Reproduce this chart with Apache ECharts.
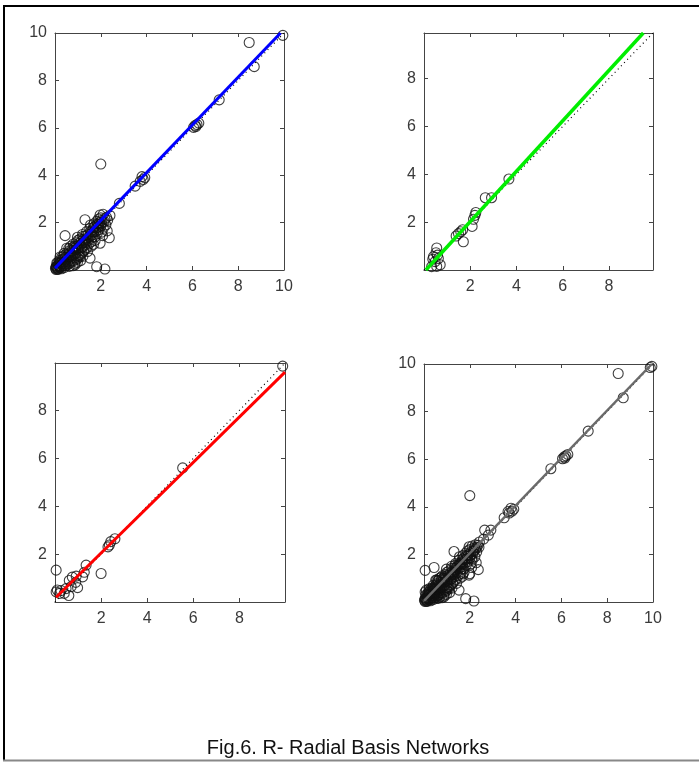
<!DOCTYPE html>
<html>
<head>
<meta charset="utf-8">
<script src="https://cdn.jsdelivr.net/npm/echarts@6/dist/echarts.min.js"></script>
<style>
html,body{margin:0;padding:0;background:#fff;}
#chart{width:699px;height:762px;}
</style>
</head>
<body>
<div id="chart"></div>
<script>
// ---- data (target, output) ----
const trainPoints = [
  [9.95,9.90],[8.48,9.60],[8.70,8.58],[7.17,7.18],[6.05,6.02],[6.12,6.10],[6.20,6.14],[6.28,6.20],[6.15,6.05],
  [3.92,3.90],[3.80,3.94],[3.72,3.74],[3.50,3.54],[3.85,3.82],[2.81,2.81],[2.00,4.47],[1.97,2.32],[1.31,2.12],
  [2.11,1.76],[2.37,1.36],[1.97,1.13],[0.44,1.45],[1.53,0.50],[1.82,0.14],[2.18,0.04],[0.87,0.22],[0.02,0.07],[0.05,0.02],
  [2.25,2.22],[2.05,2.10],[1.95,2.00],[1.90,1.92],[1.85,1.95],[2.00,1.85],[1.80,1.78],[1.75,1.85],[1.70,1.62],[1.65,1.70],
  [1.60,1.55],[1.55,1.62],[1.50,1.40],[1.45,1.50],[1.40,1.35],[1.35,1.45],[1.30,1.25],[1.25,1.30],[1.20,1.15],[1.15,1.22],
  [1.10,1.05],[1.05,1.12],[1.00,0.95],[0.95,1.02],[0.90,0.85],[0.85,0.92],[0.80,0.75],[0.75,0.82],[0.70,0.65],[0.65,0.72],
  [0.60,0.55],[0.55,0.62],[0.50,0.45],[0.45,0.52],[0.40,0.35],[0.35,0.42],[0.30,0.25],[0.25,0.32],[0.20,0.15],[0.15,0.22],
  [0.10,0.08],[0.08,0.15],[1.60,1.20],[1.40,0.95],[1.25,0.80],[1.10,0.65],[0.95,0.45],[0.80,0.38],[0.65,0.30],[0.50,0.20],
  [1.75,1.40],[1.85,1.55],[2.05,1.60],[1.55,1.90],[1.20,1.50],[1.00,1.25],[0.80,1.10],[0.60,0.90],[0.40,0.70],[0.30,0.55],
  [0.20,0.40],[0.70,0.50],[0.55,0.35],[0.35,0.18],[0.25,0.10],[1.15,0.95],[1.35,1.15],[0.90,0.70],[1.05,0.85],[0.45,0.25],
  [2.15,2.05],[2.10,2.35],[1.90,2.15],[1.70,1.95],[1.45,1.25],[1.30,1.05],[0.75,0.60],[0.85,1.00],[0.15,0.05],[0.12,0.30],
  [0.51,0.92],[1.09,0.56],[0.87,0.28],
  [1.62,1.38],[1.48,1.10],[1.32,0.88],[1.18,0.72],[1.02,0.60],[0.88,0.52],[0.72,0.38],[0.58,0.26],[0.42,0.18],[0.28,0.14],
  [1.78,1.62],[1.92,1.70],[2.02,1.95],[2.22,1.90],[2.08,1.45],[1.68,1.08],[1.42,0.78],[1.22,0.58],[1.12,0.40],[0.98,0.32],
  [0.18,0.28],[0.32,0.46],[0.48,0.66],[0.62,0.80],[0.78,0.96],[0.92,1.15],[1.08,1.30],[1.22,1.42],[1.38,1.62],[1.52,1.75],
  [1.68,1.80],[1.82,2.05],[2.00,2.20],[0.38,0.60],[0.68,1.00],[0.98,1.38],[0.22,0.55],[0.08,0.30],[0.05,0.15],[0.12,0.02],
  [0.28,0.05],[0.40,0.10],[0.62,0.15],[0.78,0.18],[1.00,0.50],[1.18,0.95],[1.58,1.00],[1.75,1.25],[2.30,2.10],[2.40,2.30],
  [1.88,1.82],[1.58,1.45],[1.28,1.18],[0.98,0.88],[0.68,0.58],[0.38,0.30],[0.18,0.12],[0.05,0.10],[2.18,2.15],[2.28,1.65]
];
const valPoints = [
  [0.33,0.14],[0.55,0.15],[0.70,0.22],[0.48,0.35],[0.62,0.48],[0.41,0.56],[0.58,0.62],[0.52,0.72],[0.55,0.92],[0.38,0.45],
  [1.39,1.42],[1.49,1.52],[1.59,1.60],[1.67,1.68],[1.70,1.18],[2.08,1.82],[2.14,2.12],[2.20,2.28],[2.24,2.40],
  [2.65,3.02],[2.92,3.02],[3.67,3.80]
];
const testPoints = [
  [9.88,9.85],[5.54,5.60],[2.60,2.64],[2.42,2.52],[2.36,2.38],[2.30,2.30],[2.00,1.19],[1.35,1.54],[1.27,1.24],[1.20,1.05],
  [0.05,1.33],[0.75,1.04],[0.92,1.08],[0.62,0.90],[0.90,0.82],[0.98,0.60],[0.70,0.64],[0.48,0.56],[0.26,0.48],[0.10,0.50],
  [0.05,0.42],[0.40,0.36],[0.60,0.27],[0.20,0.36]
];
const allPoints = trainPoints.concat(valPoints, testPoints);

const fitTrain = [[0,0.08],[9.85,10]];
const fitVal   = [[0.08,0],[9.48,9.9]];
const fitTest  = [[0.05,0.2],[9.98,9.6]];
const fitAll   = [[0,0.05],[9.95,10]];

const axisMax = [10, 9.9, 9.98, 10];
const tickValues = [2,4,6,8,10];
const captionText = 'Fig.6. R- Radial Basis Networks';

// ---- layout ----
const grids = [
  {left:55,  top:33,  width:229, height:237},
  {left:424, top:33,  width:229, height:237},
  {left:55,  top:363, width:230, height:239},
  {left:424, top:364, width:229, height:238}
];
const pointSets = [trainPoints, valPoints, testPoints, allPoints];
const fits = [fitTrain, fitVal, fitTest, fitAll];
const fitColors = ['#0000ff', '#00ee00', '#ff0000', '#6a6a6a'];
const fitWidths = [3, 3.5, 3, 2.5];

const axColor = '#444';
const fmt = v => (tickValues.indexOf(Math.round(v*1000)/1000) >= 0 ? String(v) : '');
const labelStyle = {show:true, formatter:fmt, color:'#3a3a3a', fontSize:16, fontFamily:'Liberation Sans, Arial, sans-serif'};

const xAxes = [], yAxes = [], series = [];
grids.forEach((g, i) => {
  const mx = axisMax[i];
  const common = {
    min: 0, max: mx, interval: 2, splitLine:{show:false},
    axisLine:{show:true, onZero:false, lineStyle:{color:axColor, width:1}},
    axisTick:{show:true, inside:true, length:4, lineStyle:{color:axColor}}
  };
  xAxes.push(Object.assign({}, common, {gridIndex:i, type:'value', position:'bottom',
    axisLabel:Object.assign({margin:9}, labelStyle)}));
  xAxes.push(Object.assign({}, common, {gridIndex:i, type:'value', position:'top', axisLabel:{show:false}}));
  yAxes.push(Object.assign({}, common, {gridIndex:i, type:'value', position:'left',
    axisLabel:Object.assign({margin:8}, labelStyle)}));
  yAxes.push(Object.assign({}, common, {gridIndex:i, type:'value', position:'right', axisLabel:{show:false}}));

  series.push({
    type:'line', xAxisIndex:2*i, yAxisIndex:2*i, data:[[0,0],[mx,mx]],
    symbol:'none', silent:true, z:2,
    lineStyle:{color:'#000', width:1.2, type:[1,3.5]}
  });
  series.push({
    type:'scatter', xAxisIndex:2*i, yAxisIndex:2*i, data:pointSets[i],
    symbol:'circle', symbolSize:10, z:3,
    itemStyle:{color:'rgba(0,0,0,0)', borderColor:'#111', borderWidth:1.1}
  });
  series.push({
    type:'line', xAxisIndex:2*i, yAxisIndex:2*i, data:fits[i],
    symbol:'none', silent:true, z:4,
    lineStyle:{color:fitColors[i], width:fitWidths[i]}
  });
});

const chart = echarts.init(document.getElementById('chart'), null, {renderer:'canvas'});
chart.setOption({
  animation:false,
  backgroundColor:'#fff',
  grid: grids.map(g => Object.assign({containLabel:false}, g)),
  xAxis: xAxes,
  yAxis: yAxes,
  series: series,
  graphic: [
    {type:'line', shape:{x1:3, y1:6, x2:699, y2:6}, style:{stroke:'#000', lineWidth:2}},
    {type:'line', shape:{x1:4, y1:5, x2:4, y2:761}, style:{stroke:'#000', lineWidth:2}},
    {type:'line', shape:{x1:3, y1:760.5, x2:699, y2:760.5}, style:{stroke:'#888', lineWidth:2}},
    {type:'text', x:348, y:748, style:{text:captionText, fill:'#111', fontSize:20,
      fontFamily:'Liberation Sans, Arial, sans-serif', textAlign:'center', textVerticalAlign:'middle'}}
  ]
});
</script>
</body>
</html>
